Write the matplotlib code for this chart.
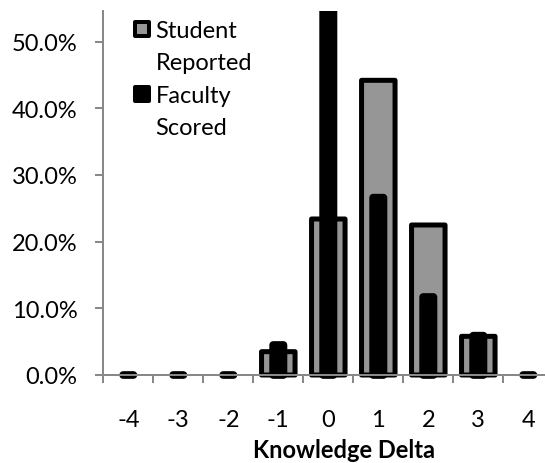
import numpy as np
import matplotlib
matplotlib.use("Agg")
import matplotlib.pyplot as plt
from matplotlib.patches import Rectangle
from matplotlib.ticker import FixedLocator, PercentFormatter
from matplotlib.transforms import Bbox, TransformedBbox

# ---- data -------------------------------------------------------------
knowledge_delta = [-4, -3, -2, -1, 0, 1, 2, 3, 4]
student_reported = [np.nan, np.nan, np.nan, 0.035, 0.234, 0.442, 0.225, 0.058, np.nan]
faculty_scored = [0.0, 0.0, 0.0, 0.045, 0.56, 0.266, 0.117, 0.059, 0.0]
y_ticks = [0.0, 0.1, 0.2, 0.3, 0.4, 0.5]
series_names = ["Student\nReported", "Faculty\nScored"]
x_title = "Knowledge Delta"

# ---- styling ------------------------------------------------------------
W, H, DPI = 545, 464, 100
PT = 72.0 / DPI          # points per pixel
FONT = "Lato"
FS = 17
GRAY_AXIS = "#888888"
GRAY_BAR = "#969696"

plt.rcParams["font.family"] = [FONT, "DejaVu Sans"]
plt.rcParams["path.simplify"] = False


def fx(px):
    return px / W


def fy(py):
    return 1.0 - py / H


fig = plt.figure(figsize=(W / DPI, H / DPI), dpi=DPI, facecolor="white")

# plot area (right edge runs past the figure border)
left_px, right_px, top_px, zero_px = 103.3, 553.3, 11.7, 376.0
ax = fig.add_axes([fx(left_px), fy(zero_px), (right_px - left_px) / W,
                   (zero_px - top_px) / H])
px_per_unit = 666.7
ax.set_xlim(knowledge_delta[0] - 0.5, knowledge_delta[-1] + 0.5)
ax.set_ylim(0, (zero_px - top_px) / px_per_unit)

x = np.array(knowledge_delta, dtype=float)
s = np.array(student_reported, dtype=float)
f = np.array(faculty_scored, dtype=float)
has_s = ~np.isnan(s)

student_bars = ax.bar(x[has_s], s[has_s], width=0.67, color=GRAY_BAR,
                      edgecolor="black", linewidth=5 * PT, joinstyle="round",
                      zorder=1)
faculty_bars = ax.bar(x, f, width=0.206, color="black", edgecolor="black",
                      linewidth=7.7 * PT, joinstyle="round", capstyle="round",
                      zorder=2)

# let the bar outlines hang below the baseline, but clip at the top
clip = TransformedBbox(Bbox([[x[0] - 0.5, -0.05], [x[-1] + 0.5, ax.get_ylim()[1]]]),
                       ax.transData)
for p in list(student_bars) + list(faculty_bars):
    p.set_clip_box(clip)
    p.set_snap(False)

# spines
for side in ("top", "right"):
    ax.spines[side].set_visible(False)
for side in ("left", "bottom"):
    ax.spines[side].set_color(GRAY_AXIS)
    ax.spines[side].set_linewidth(2 * PT)

# y axis
ax.yaxis.set_major_locator(FixedLocator(y_ticks))
ax.yaxis.set_major_formatter(PercentFormatter(1.0, decimals=1))
ax.tick_params(axis="y", direction="out", length=8 * PT, width=2 * PT,
               color=GRAY_AXIS, pad=18 * PT, labelsize=FS, labelcolor="black")

# x axis: labels at category centres, tick marks at category boundaries
ax.set_xticks(knowledge_delta)
ax.set_xticklabels([str(k) for k in knowledge_delta])
boundaries = [k - 0.5 for k in knowledge_delta] + [knowledge_delta[-1] + 0.5]
ax.xaxis.set_minor_locator(FixedLocator(boundaries))
ax.tick_params(axis="x", which="major", length=0, pad=34 * PT,
               labelsize=FS, labelcolor="black")
ax.tick_params(axis="x", which="minor", direction="out", length=8 * PT,
               width=2 * PT, color=GRAY_AXIS)

# axis title
fig.text(fx(344), fy(457.7), x_title, ha="center", va="baseline",
         fontsize=FS, fontweight="bold", color="black")

# legend
key_px = 18
line_gap = 32.3
legend_styles = [
    dict(facecolor=GRAY_BAR, edgecolor="black"),
    dict(facecolor="black", edgecolor="black"),
]
for i, (name, style) in enumerate(zip(series_names, legend_styles)):
    first_base = 38.0 + i * 2 * line_gap
    key_top = first_base - 17
    lw = 4
    inner = key_px - lw
    fig.add_artist(Rectangle((fx(133 + lw / 2), fy(key_top + lw / 2 + inner)),
                             inner / W, inner / H, transform=fig.transFigure,
                             linewidth=lw * PT, joinstyle="round", **style))
    for j, line in enumerate(name.split("\n")):
        fig.text(fx(155.4), fy(first_base + j * line_gap), line,
                 ha="left", va="baseline", fontsize=FS, color="black")

fig.savefig("out.png", dpi=DPI, facecolor="white")
